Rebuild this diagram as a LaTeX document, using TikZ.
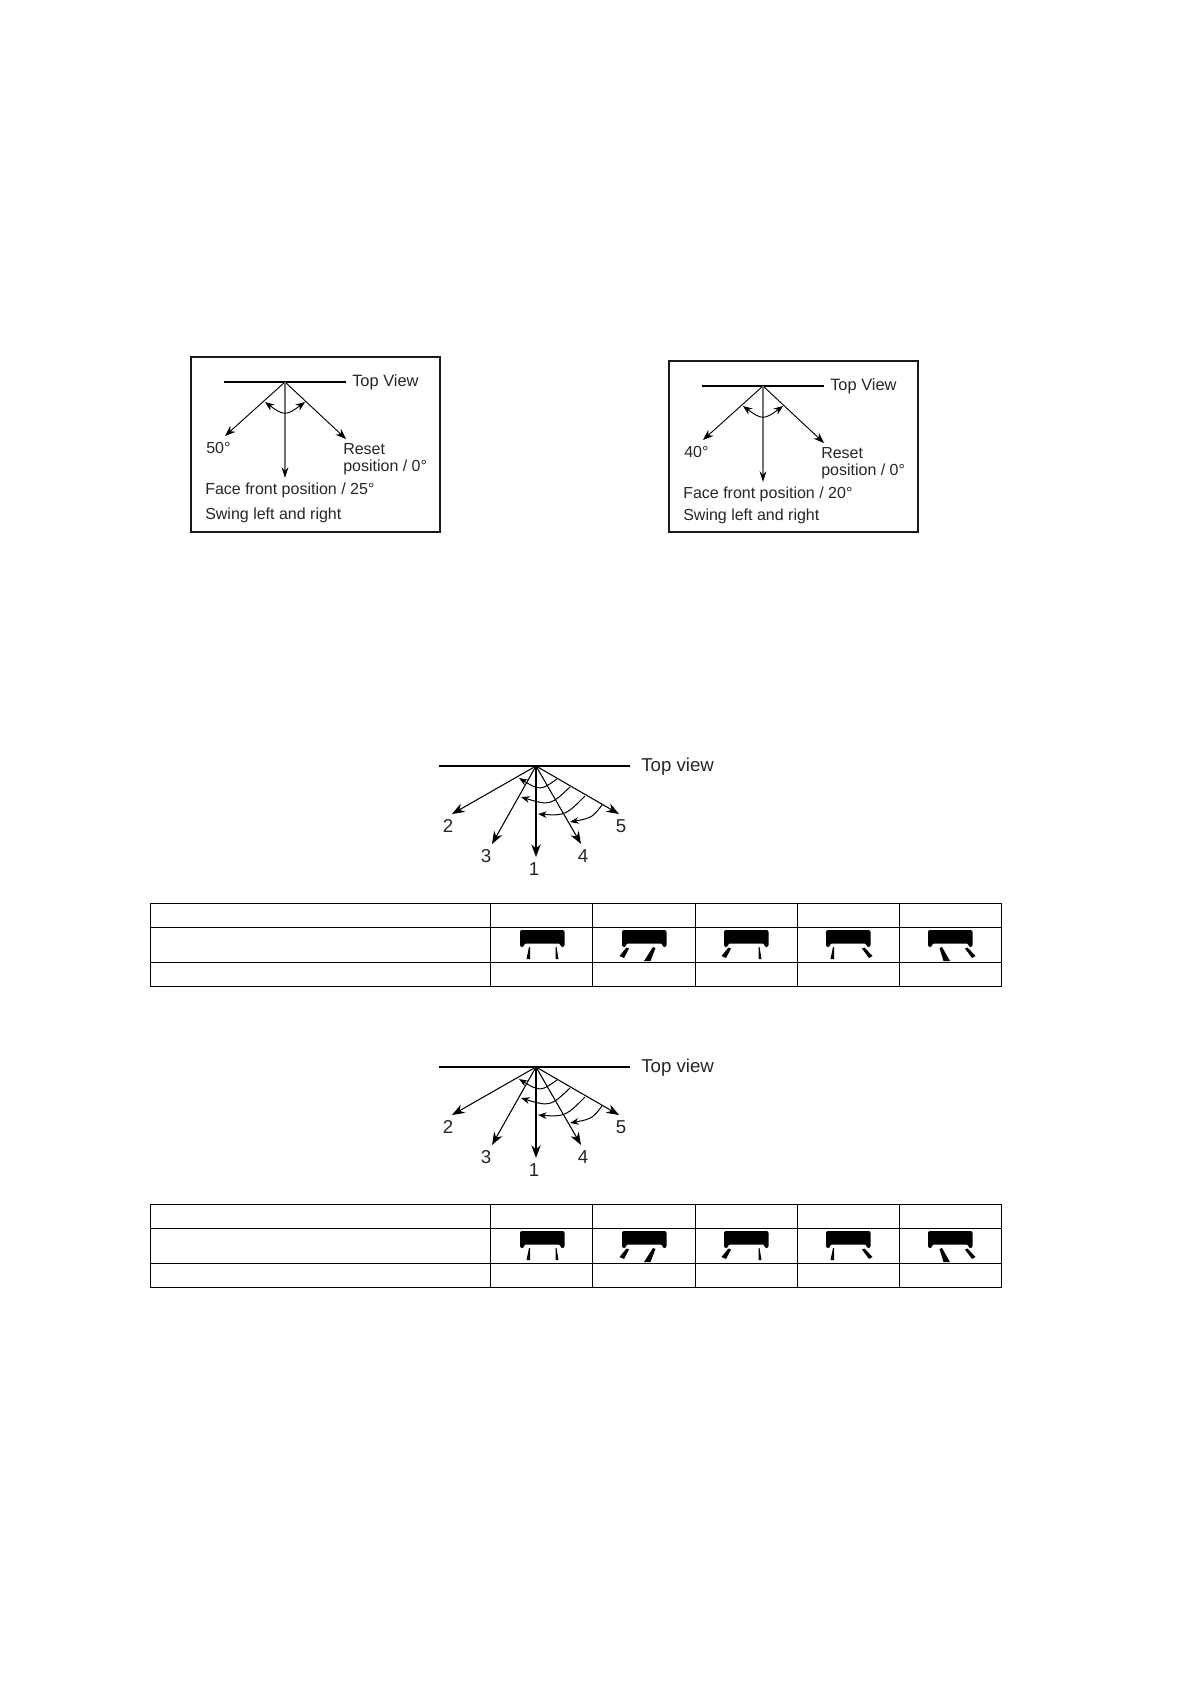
\documentclass[tikz,border=0pt]{standalone}
\usepackage{fontspec}
\setmainfont{Liberation Sans}
\usetikzlibrary{arrows.meta,bending}
\definecolor{midgrey}{gray}{0.45}
\tikzset{
  x=0.75pt,y=-0.75pt,
  lab/.style={inner sep=0pt,font=\fontsize{12}{14}\selectfont,text=black!85},
  labl/.style={lab,anchor=west},
  fanlab/.style={inner sep=0pt,font=\fontsize{14}{16}\selectfont,text=black!85},
  frameb/.style={draw=black!90,line width=1.6pt},
  ray/.style={line width=0.8pt,-{Stealth[length=9.5pt,width=7pt]}},
  sray/.style={line width=0.7pt,-{Stealth[length=8pt,width=6pt]}},
  sweep/.style={line width=0.75pt,-{Stealth[length=6.5pt,width=5pt,bend]}},
  grid/.style={line width=0.75pt,black},
  pics/swingbox/.style n args={5}{code={
    \draw[frameb] (0,0) rectangle (249,#5);
    \coordinate (apex) at (94,25);
    \coordinate (wl) at (33,25); \coordinate (wr) at (155,25);
    \coordinate (el) at (34,79); \coordinate (er) at (155,82); \coordinate (ed) at (94,121);
    \coordinate (al) at (74,45); \coordinate (ar) at (114,45);
    \draw[line width=1.1pt] (wl) -- (wr);
    \draw[sray] (apex) -- (el);
    \draw[sray] (apex) -- (er);
    \draw[draw=midgrey,line width=0.9pt,-{Stealth[length=8pt,width=5pt,color=black]}] (apex) -- (ed);
    \draw[line width=0.7pt,{Stealth[length=7pt,width=5.5pt,bend]}-{Stealth[length=7pt,width=5.5pt,bend]}] (al) .. controls (94,60) .. (ar);
    \node[labl] (tv) at (161,25.5) {\fontsize{12.3}{14}\selectfont Top View};
    \node[labl] (a1) at (15,#4) {#1};
    \node[labl] (r1) at (152,92) {Reset};
    \node[labl] (r2) at (152,110) {position / 0°};
    \node[labl] (f1) at (14,133) {Face front position / #2};
    \node[labl] (s1) at (14,#3) {Swing left and right};
  }},
  pics/fan/.style={code={
    \coordinate (apex) at (536,766);
    \coordinate (wl) at (439,766); \coordinate (wr) at (630,766);
    \coordinate (e2) at (452,814); \coordinate (e3) at (492,844);
    \coordinate (e1) at (536,857); \coordinate (e4) at (581,844);
    \coordinate (e5) at (619,814);
    \draw[line width=0.9pt] (wl) -- (wr);
    \draw[ray] (apex) -- (e2);
    \draw[ray] (apex) -- (e3);
    \draw[ray,line width=1.2pt] (apex) -- (e1);
    \draw[ray] (apex) -- (e4);
    \draw[ray] (apex) -- (e5);
    \coordinate (s1) at (557,779); \coordinate (t1) at (519,778);
    \coordinate (s2) at (570,787); \coordinate (t2) at (521,797);
    \coordinate (s3) at (585,796); \coordinate (t3) at (538,814);
    \coordinate (s4) at (602,805); \coordinate (t4) at (570,822);
    \draw[sweep] (s1) .. controls (540,791) .. (t1);
    \draw[sweep] (s2) .. controls (550,806) .. (t2);
    \draw[sweep] (s3) .. controls (565,816) .. (t3);
    \draw[sweep] (s4) .. controls (592,818) .. (t4);
    \node[fanlab] (n2) at (448,826) {2};
    \node[fanlab] (n3) at (486,856) {3};
    \node[fanlab] (n1) at (534,869) {1};
    \node[fanlab] (n4) at (583,856) {4};
    \node[fanlab] (n5) at (621,826) {5};
    \node[fanlab,anchor=west] (tv) at (641,767) {Top view};
  }},
  pics/acbody/.style={code={
    \fill[black,rounded corners=1.5pt]
      (0,0) -- (44.5,0) -- (44.5,17) -- (40.5,17) -- (40.5,13.5) -- (4,13.5) -- (4,17) -- (0,17) -- cycle;
  }},
  pics/swingtable/.style={code={
    \draw[grid] (150,903.5) rectangle (1001,986.5);
    \draw[grid] (150,927.5) -- (1001,927.5);
    \draw[grid] (150,962.5) -- (1001,962.5);
    \foreach \cx in {490.5,592.5,695.5,797.5,899}{\draw[grid] (\cx,903.5) -- (\cx,986.5);}
    \foreach \bx in {520,622,724,826,928}{\pic at (\bx,930) {acbody};}
    % column 1
    \fill (529,947) -- (530,947) -- (530,959) -- (526.5,959) -- cycle;
    \fill (555.5,947) -- (556.5,947) -- (558.5,959) -- (555.5,959) -- cycle;
    % column 2
    \fill (626.5,947.5) -- (629,948.5) -- (624,958) -- (619.5,956) -- cycle;
    \fill (653,947) -- (655.5,948) -- (650.5,961) -- (644,961) -- cycle;
    % column 3
    \fill (728.5,947.5) -- (731,948.5) -- (726,958) -- (721.5,956) -- cycle;
    \fill (758.5,947) -- (759.5,947) -- (761.5,959) -- (758.5,959) -- cycle;
    % column 4
    \fill (833,947) -- (834,947) -- (834,959) -- (830.5,959) -- cycle;
    \fill (862,948.5) -- (864.5,947.5) -- (872.5,956) -- (869,958) -- cycle;
    % column 5
    \fill (939.5,948) -- (942,947) -- (950,961) -- (943.5,961) -- cycle;
    \fill (965,948.5) -- (967.5,947.5) -- (975.5,956) -- (972,958) -- cycle;
  }},
}
\begin{document}
\begin{tikzpicture}
  \useasboundingbox (0,0) rectangle (1190,1684);
  \fill[white] (0,0) rectangle (1190,1684);
  \pic (boxA) at (191,357) {swingbox={50°}{25°}{158}{91}{175}};
  \pic (boxB) at (669,361) {swingbox={40°}{20°}{155}{91}{171}};
  \pic (fanA) at (0,0) {fan};
  \pic (tabA) at (0,0) {swingtable};
  \pic (fanB) at (0,301) {fan};
  \pic (tabB) at (0,301) {swingtable};
\end{tikzpicture}
\end{document}
